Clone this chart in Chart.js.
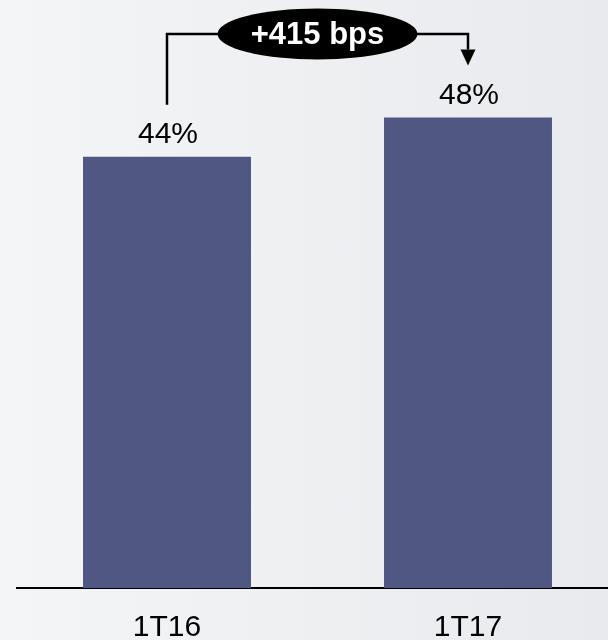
<!DOCTYPE html>
<html>
<head>
<meta charset="utf-8">
<script src="https://cdn.jsdelivr.net/npm/chart.js@4/dist/chart.umd.min.js"></script>
<style>
  html, body { margin: 0; padding: 0; }
  body {
    width: 608px; height: 640px; overflow: hidden;
    background: linear-gradient(to right, #f4f5f7, #e8eaed);
  }
  #wrap { width: 608px; height: 640px; overflow: hidden; position: relative; }
  canvas { display: block; }
</style>
</head>
<body>
<div id="wrap"><canvas id="margin" width="620" height="640"></canvas></div>
<script>
const periods = ['1T16', '1T17'];
const marginPct = [44, 48];
const changeLabel = '+415 bps';

const fontFamily = '"Liberation Sans", Arial, sans-serif';

// value labels above each bar
const valueLabels = {
    id: 'valueLabels',
    afterDatasetsDraw(chart) {
        const ctx = chart.ctx;
        const meta = chart.getDatasetMeta(0);
        ctx.save();
        ctx.font = '30px ' + fontFamily;
        ctx.fillStyle = '#000';
        ctx.textAlign = 'center';
        ctx.textBaseline = 'alphabetic';
        meta.data.forEach((bar, i) => {
            ctx.fillText(marginPct[i] + '%', bar.x + 1, bar.y - 14);
        });
        ctx.restore();
    }
};

// bracket with the change bubble
const changeBracket = {
    id: 'changeBracket',
    afterDatasetsDraw(chart) {
        const ctx = chart.ctx;
        const meta = chart.getDatasetMeta(0);
        const x1 = meta.data[0].x, x2 = meta.data[1].x;
        const yTop = chart.chartArea.top + 34;
        const y1 = meta.data[0].y - 52;
        const y2 = meta.data[1].y - 52;
        const cx = (x1 + x2) / 2;
        const rx = 100, ry = 25.5;

        ctx.save();
        ctx.strokeStyle = '#000';
        ctx.lineWidth = 2.5;
        ctx.beginPath();
        ctx.moveTo(x1, y1);
        ctx.lineTo(x1, yTop);
        ctx.lineTo(x2, yTop);
        ctx.lineTo(x2, y2 - 16);
        ctx.stroke();

        ctx.fillStyle = '#000';
        ctx.beginPath();
        ctx.moveTo(x2 - 7.5, y2 - 16);
        ctx.lineTo(x2 + 7.5, y2 - 16);
        ctx.lineTo(x2, y2);
        ctx.closePath();
        ctx.fill();

        ctx.beginPath();
        ctx.ellipse(cx, yTop, rx, ry, 0, 0, Math.PI * 2);
        ctx.fill();

        ctx.fillStyle = '#fff';
        ctx.font = 'bold 31px ' + fontFamily;
        ctx.textAlign = 'center';
        ctx.textBaseline = 'alphabetic';
        ctx.fillText(changeLabel, cx, yTop + 10);
        ctx.restore();
    }
};

new Chart(document.getElementById('margin'), {
    type: 'bar',
    data: {
        labels: periods,
        datasets: [{
            data: marginPct,
            backgroundColor: '#4f5782',
            borderWidth: 0,
            categoryPercentage: 1,
            barPercentage: 0.558
        }]
    },
    options: {
        responsive: false,
        animation: false,
        devicePixelRatio: 1,
        layout: { padding: { left: 16.5, right: 1.5, top: 0, bottom: 0 } },
        plugins: {
            legend: { display: false },
            tooltip: { enabled: false }
        },
        scales: {
            x: {
                grid: { display: false, drawTicks: false },
                border: { display: true, color: '#000', width: 2 },
                ticks: {
                    color: '#000',
                    padding: 22,
                    font: { size: 30, family: fontFamily }
                },
                afterFit(scale) { scale.height = 52; }
            },
            y: {
                display: false,
                min: 0,
                max: 60
            }
        }
    },
    plugins: [valueLabels, changeBracket]
});
</script>
</body>
</html>
